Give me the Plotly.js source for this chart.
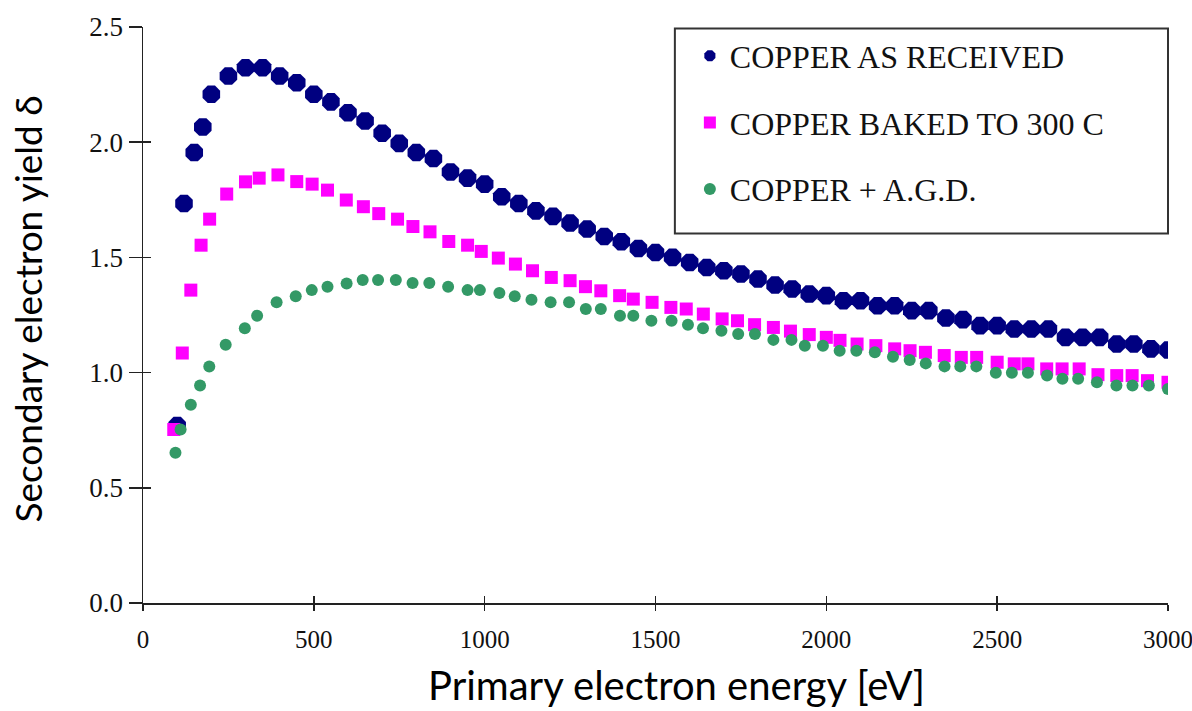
<!DOCTYPE html>
<html>
<head>
<meta charset="utf-8">
<script src="https://cdn.plot.ly/plotly-3.0.1.min.js"></script>
<style>
  html, body { margin: 0; padding: 0; background: #fff; }
  #chart { width: 1192px; height: 711px; }
</style>
</head>
<body>
<div id="chart"></div>
<script>
// Secondary electron yield of copper vs. primary electron energy

const seriesNames = ['COPPER AS RECEIVED', 'COPPER BAKED TO 300 C', 'COPPER + A.G.D.'];

// Copper as received
const energyReceived = [100, 120, 150, 175, 200, 250, 300, 350, 400, 450, 500, 550, 600, 650, 700,
  750, 800, 850, 900, 950, 1000, 1050, 1100, 1150, 1200, 1250, 1300, 1350, 1400, 1450,
  1500, 1550, 1600, 1650, 1700, 1750, 1800, 1850, 1900, 1950, 2000, 2050, 2100, 2150, 2200,
  2250, 2300, 2350, 2400, 2450, 2500, 2550, 2600, 2650, 2700, 2750, 2800, 2850, 2900, 2950, 3000];
const yieldReceived = [0.77, 1.734, 1.955, 2.066, 2.208, 2.287, 2.323, 2.323, 2.287, 2.258, 2.208, 2.175, 2.128, 2.092, 2.039,
  1.995, 1.955, 1.929, 1.871, 1.844, 1.818, 1.763, 1.734, 1.702, 1.678, 1.649, 1.623, 1.591, 1.568, 1.539,
  1.521, 1.500, 1.478, 1.456, 1.442, 1.428, 1.406, 1.380, 1.363, 1.341, 1.334, 1.312, 1.312, 1.290, 1.290,
  1.269, 1.269, 1.237, 1.230, 1.204, 1.204, 1.189, 1.189, 1.189, 1.153, 1.153, 1.153, 1.124, 1.124, 1.103, 1.098];

// Copper baked to 300 C
const energyBaked = [90, 115, 140, 170, 195, 245, 300, 340, 395, 450, 495, 540, 595, 645, 690,
  745, 790, 840, 895, 950, 990, 1040, 1090, 1140, 1195, 1250, 1295, 1340, 1395, 1435,
  1490, 1545, 1590, 1640, 1695, 1740, 1790, 1845, 1895, 1950, 2000, 2040, 2090, 2145, 2200,
  2245, 2290, 2345, 2395, 2440, 2500, 2550, 2590, 2645, 2690, 2740, 2795, 2850, 2895, 2940, 3000];
const yieldBaked = [0.753, 1.085, 1.358, 1.553, 1.666, 1.775, 1.828, 1.844, 1.858, 1.829, 1.818, 1.792, 1.749, 1.720, 1.690,
  1.666, 1.634, 1.611, 1.569, 1.553, 1.526, 1.497, 1.471, 1.442, 1.413, 1.399, 1.373, 1.355, 1.334, 1.319,
  1.305, 1.283, 1.276, 1.254, 1.233, 1.225, 1.208, 1.196, 1.180, 1.165, 1.153, 1.140, 1.124, 1.117, 1.103,
  1.095, 1.088, 1.074, 1.066, 1.066, 1.045, 1.038, 1.038, 1.016, 1.016, 1.016, 0.991, 0.987, 0.987, 0.965, 0.958];

// Copper + A.G.D.
const energyAgd = [95, 110, 140, 167, 194, 242, 298, 334, 391, 447, 494, 540, 596, 643, 688,
  740, 789, 838, 893, 950, 986, 1043, 1088, 1137, 1193, 1247, 1296, 1340, 1396, 1435,
  1488, 1547, 1595, 1639, 1693, 1742, 1791, 1845, 1898, 1937, 1990, 2039, 2088, 2142, 2195,
  2244, 2291, 2346, 2392, 2439, 2496, 2543, 2590, 2646, 2691, 2737, 2792, 2849, 2896, 2944, 3000];
const yieldAgd = [0.652, 0.753, 0.860, 0.944, 1.026, 1.121, 1.192, 1.247, 1.305, 1.331, 1.358, 1.373, 1.387, 1.402, 1.402,
  1.402, 1.389, 1.389, 1.373, 1.358, 1.358, 1.345, 1.331, 1.316, 1.305, 1.305, 1.276, 1.276, 1.247, 1.247,
  1.225, 1.225, 1.208, 1.192, 1.182, 1.168, 1.168, 1.142, 1.142, 1.117, 1.117, 1.095, 1.095, 1.088, 1.069,
  1.055, 1.040, 1.027, 1.027, 1.027, 0.999, 0.999, 0.999, 0.987, 0.973, 0.973, 0.958, 0.944, 0.944, 0.944, 0.929];

const xTicks = [0, 500, 1000, 1500, 2000, 2500, 3000];
const yTicks = [0, 0.5, 1.0, 1.5, 2.0, 2.5];
const xTitle = 'Primary electron energy [eV]';
const yTitle = 'Secondary electron yield δ';

const serif = '"Liberation Serif", "Times New Roman", serif';
const sans = 'Lato, "Open Sans", sans-serif';
const axisColor = '#222';

const traces = [
  {
    x: energyReceived, y: yieldReceived, name: seriesNames[0], legendgroup: 'a',
    type: 'scatter', mode: 'markers',
    marker: { symbol: 'octagon', size: 19, color: '#000080' }
  },
  {
    x: energyBaked, y: yieldBaked, name: seriesNames[1], legendgroup: 'b',
    type: 'scatter', mode: 'markers',
    marker: { symbol: 'square', size: 13, color: '#ff00ff' }
  },
  {
    x: energyAgd, y: yieldAgd, name: seriesNames[2], legendgroup: 'c',
    type: 'scatter', mode: 'markers',
    marker: { symbol: 'circle', size: 12, color: '#339966' }
  },
  // empty trace that carries the inner half of the tick marks
  { x: [], y: [], xaxis: 'x2', yaxis: 'y2', showlegend: false, hoverinfo: 'skip', type: 'scatter', mode: 'markers' }
];

const layout = {
  width: 1192,
  height: 711,
  paper_bgcolor: '#ffffff',
  plot_bgcolor: '#ffffff',
  margin: { l: 143, r: 24, t: 26.5, b: 108.3, pad: 0 },
  showlegend: true,
  xaxis: {
    range: [0, 3000], tickvals: xTicks, ticktext: xTicks.map(String),
    ticks: 'outside', ticklen: 6, tickwidth: 1.5, tickcolor: axisColor,
    showline: true, linecolor: axisColor, linewidth: 1.5,
    showgrid: false, zeroline: false,
    tickfont: { family: serif, size: 25, color: '#111' },
    ticklabelstandoff: 7, ticklabeloverflow: 'allow'
  },
  yaxis: {
    range: [0, 2.5], tickvals: yTicks, ticktext: yTicks.map(v => v.toFixed(1)),
    ticks: 'outside', ticklen: 13, tickwidth: 1.5, tickcolor: axisColor,
    showline: true, linecolor: axisColor, linewidth: 1.5,
    showgrid: false, zeroline: false,
    tickfont: { family: serif, size: 27, color: '#111' }
  },
  xaxis2: {
    overlaying: 'x', anchor: 'y2', side: 'bottom', range: [0, 3000], tickvals: xTicks,
    ticks: 'inside', ticklen: 7, tickwidth: 1.5, tickcolor: axisColor,
    showticklabels: false, showline: false, showgrid: false, zeroline: false
  },
  yaxis2: {
    overlaying: 'y', anchor: 'x2', side: 'left', range: [0, 2.5], tickvals: yTicks,
    ticks: 'inside', ticklen: 8, tickwidth: 1.5, tickcolor: axisColor,
    showticklabels: false, showline: false, showgrid: false, zeroline: false
  },
  legend: {
    x: 0.5189, y: 0.9974, xanchor: 'left', yanchor: 'top',
    bgcolor: 'rgba(0,0,0,0)', borderwidth: 0,
    font: { family: serif, size: 32, color: '#111' },
    itemsizing: 'constant', tracegroupgap: 22, indentation: 15
  },
  // framed white panel behind the legend entries
  shapes: [
    {
      type: 'rect', xref: 'paper', yref: 'paper', layer: 'above',
      x0: 0.5189, x1: 1.0, y0: 0.6416, y1: 0.9974,
      fillcolor: '#ffffff', line: { color: '#333', width: 2 }
    }
  ],
  annotations: [
    {
      text: xTitle, xref: 'paper', yref: 'paper', x: 0.5208, y: -0.1428,
      xanchor: 'center', yanchor: 'middle', showarrow: false,
      font: { family: sans, size: 40, color: '#000' }
    },
    {
      text: yTitle, xref: 'paper', yref: 'paper', x: -0.1131, y: 0.5097,
      xanchor: 'center', yanchor: 'middle', showarrow: false, textangle: -90,
      font: { family: sans, size: 37, color: '#000' }
    }
  ]
};

Plotly.newPlot('chart', traces, layout, { displayModeBar: false, staticPlot: true });
</script>
</body>
</html>
